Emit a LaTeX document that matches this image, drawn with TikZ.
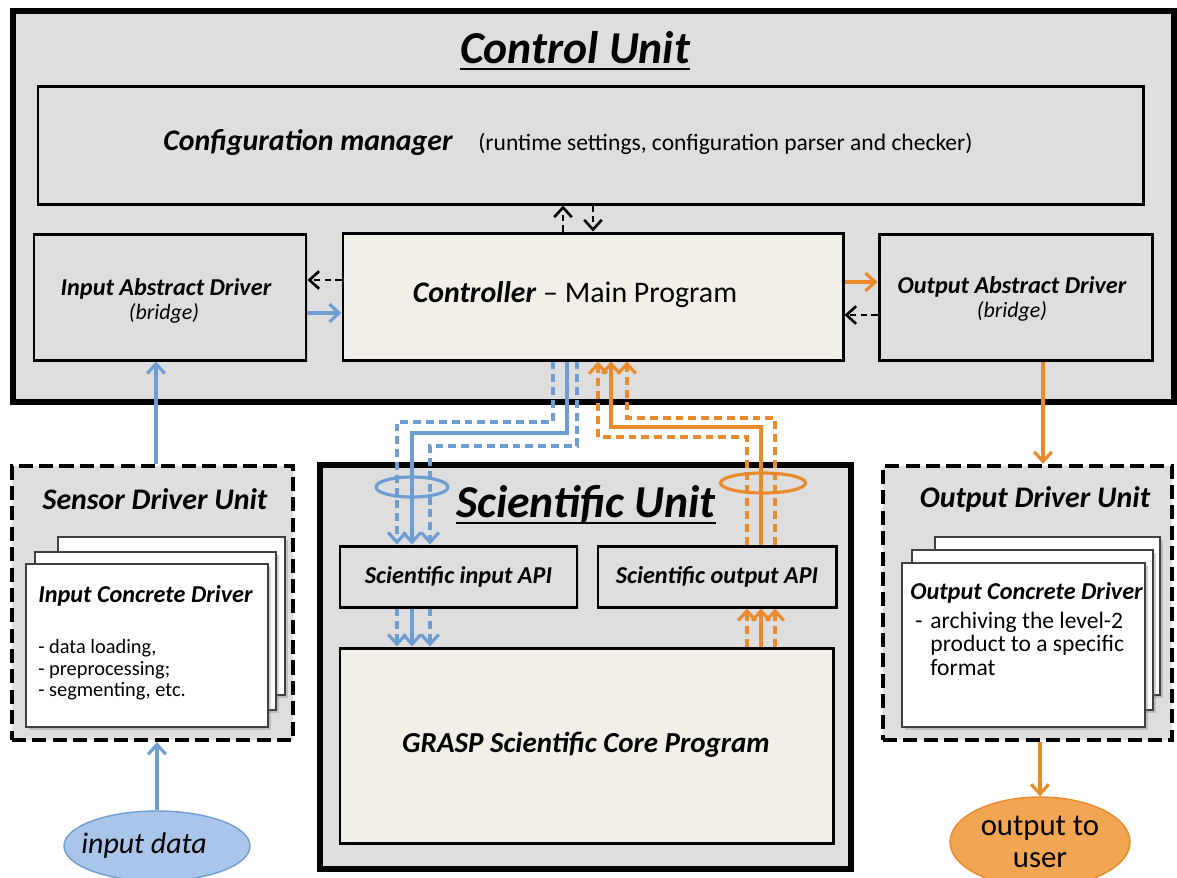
\documentclass[tikz,border=0pt]{standalone}
\usepackage{fontspec}
\setmainfont{Carlito}
\usetikzlibrary{arrows.meta,fit,calc,shadows,shapes.geometric}
\definecolor{unitgray}{HTML}{DEDEDE}
\definecolor{corebeige}{HTML}{F2EFE9}
\definecolor{flowblue}{HTML}{6E9DD2}
\definecolor{ovalblue}{HTML}{A9C6EA}
\definecolor{floworange}{HTML}{E98A2C}
\definecolor{ovalorange}{HTML}{F2A552}
\newcommand\unittitlefont{\bfseries\itshape\fontsize{26}{30}\selectfont}
\newcommand\blocktitlefont{\bfseries\itshape\fontsize{17}{20}\selectfont}
\newcommand\drvtitlefont{\bfseries\itshape\fontsize{13.8}{16}\selectfont}
\newcommand\notefont{\fontsize{11.6}{12.3}\selectfont}
\begin{document}
\begin{tikzpicture}[x=0.02cm,y=-0.02cm,
  every node/.style={inner sep=0pt},
  unitbox/.style={draw, line width=3.4pt, fill=unitgray,
    drop shadow={opacity=0.25,shadow xshift=1.5pt,shadow yshift=-1.5pt}},
  blk/.style={draw, line width=1.7pt, fill=unitgray,
    drop shadow={opacity=0.3,shadow xshift=1.2pt,shadow yshift=-1.2pt}},
  corebox/.style={blk, fill=corebeige},
  drvunit/.style={draw, line width=2.5pt, dash pattern=on 8pt off 3.6pt, fill=unitgray},
  pagebox/.style={draw=black!75, line width=0.8pt, fill=white,
    drop shadow={opacity=0.35,shadow xshift=1.5pt,shadow yshift=-1.5pt}},
  tipped/.style={-{Straight Barb[length=5.5pt,width=10pt]}},
  ctl/.style={tipped, black, line width=1.5pt, dash pattern=on 3.5pt off 2.5pt},
  bsolid/.style={tipped, flowblue, line width=1.8pt},
  bdash/.style={bsolid, dash pattern=on 4.5pt off 2.8pt},
  osolid/.style={tipped, floworange, line width=1.8pt},
  odash/.style={osolid, dash pattern=on 4.5pt off 2.8pt},
  ring/.style={ellipse, line width=1.8pt, minimum height=0.4cm},
  underrule/.style={line width=1.6pt}
]
\fill[white] (0,0) rectangle (1177,877);
\useasboundingbox (0,0) rectangle (1177,877);

% ---------------- Control Unit ----------------
\node[unitbox, fit={(13,11) (1174,402)}] (cu) {};
\node[font=\unittitlefont, anchor=base] (cutitle) at (575,63) {Control Unit};
\draw[underrule] ($(cutitle.base west)+(0,6)$) -- ($(cutitle.base east)+(0,6)$);

\node[blk, fit={(38,86) (1143,204)}] (cfg) {};
\node[font=\blocktitlefont, anchor=base west] (cfgname) at (163,150) {Configuration manager};
\node[font=\fontsize{13.4}{15}\selectfont, anchor=base west] (cfgnote) at (478,150)
  {(runtime settings, configuration parser and checker)};

\node[corebox, fit={(343,233) (843,360)}] (ctrl) {};
\node[font=\fontsize{17}{20}\selectfont, anchor=base] (ctrltxt) at (575,302)
  {\textbf{\textit{Controller}} – Main Program};

\node[blk, fit={(34,234) (306,360)}] (ia) {};
\node[font=\drvtitlefont] (iatxt) at (166,289) {Input Abstract Driver};
\node[font=\itshape\fontsize{12.5}{14}\selectfont] (iabr) at (164,313) {(bridge)};

\node[blk, fit={(879,234) (1152,360)}] (oa) {};
\node[font=\drvtitlefont] (oatxt) at (1012,287) {Output Abstract Driver};
\node[font=\itshape\fontsize{12.5}{14}\selectfont] (oabr) at (1012,311) {(bridge)};

% ---------------- Sensor Driver Unit ----------------
\node[drvunit, fit={(12,466) (293,740)}] (sdu) {};
\node[font=\blocktitlefont] (sdutitle) at (155,499) {Sensor Driver Unit};
\node[pagebox, fit={(58,537) (285,695)}] (sp3) {};
\node[pagebox, fit={(35,552) (276,710)}] (sp2) {};
\node[pagebox, fit={(26,564) (268,727)}] (sp1) {};
\node[font=\drvtitlefont, anchor=west] (icdtitle) at (38,596) {Input Concrete Driver};
\node[font=\notefont, anchor=north west, align=left] (icdnote) at (38,639)
  {- data loading,\\- preprocessing;\\- segmenting, etc.};

% ---------------- Output Driver Unit ----------------
\node[drvunit, fit={(883,466) (1172,740)}] (odu) {};
\node[font=\blocktitlefont] (odutitle) at (1035,499) {Output Driver Unit};
\node[pagebox, fit={(935,537) (1160,695)}] (op3) {};
\node[pagebox, fit={(912,550) (1153,710)}] (op2) {};
\node[pagebox, fit={(902,563) (1145,727)}] (op1) {};
\node[font=\drvtitlefont, anchor=west] (ocdtitle) at (910,593) {Output Concrete Driver};
\node[font=\fontsize{13.4}{13.1}\selectfont, anchor=north west] (ocdnote) at (915,612)
  {\begin{tabular}{@{}l@{\hspace{4.5pt}}l@{}}
   - & archiving the level-2\\
     & product to a specific\\
     & format
   \end{tabular}};

% ---------------- Scientific Unit ----------------
\node[unitbox, fit={(320,465) (851,869)}] (su) {};
\node[font=\unittitlefont, anchor=base] (sutitle) at (586,517) {Scientific Unit};
\draw[underrule] ($(sutitle.base west)+(0,6)$) -- ($(sutitle.base east)+(0,6)$);

\node[blk, fit={(340,546) (577,607)}] (sia) {};
\node[font=\drvtitlefont] (siatxt) at (sia) {Scientific input API};
\node[blk, fit={(598,546) (836,607)}] (soa) {};
\node[font=\drvtitlefont] (soatxt) at (soa) {Scientific output API};

\node[corebox, fit={(340,648) (833,843)}] (core) {};
\node[font=\bfseries\itshape\fontsize{16.5}{20}\selectfont] (coretxt) at (586,745)
  {GRASP Scientific Core Program};

% ---------------- Data source and sink ----------------
\node[ellipse, draw=flowblue, line width=0.8pt, fill=ovalblue,
  minimum width=3.72cm, minimum height=1.4cm] (indata) at (157,846) {};
\node[font=\itshape\fontsize{17}{20}\selectfont] (indatatxt) at (144,846) {input data};
\node[ellipse, draw=floworange, line width=0.8pt, fill=ovalorange,
  minimum width=3.6cm, minimum height=1.8cm, align=center,
  font=\fontsize{17.5}{18.4}\selectfont] (outuser) at (1040,842) {output to\\user};

% ---------------- Control Unit links ----------------
\coordinate (cx1) at (563,0);
\coordinate (cx2) at (593,0);
\draw[ctl] (ctrl.north -| cx1) -- (cfg.south -| cx1);
\draw[ctl] (cfg.south -| cx2) -- (ctrl.north -| cx2);

\coordinate (ry1) at (0,280);
\coordinate (ry2) at (0,313);
\coordinate (ry3) at (0,282);
\coordinate (ry4) at (0,315);
\draw[ctl] (ctrl.west |- ry1) -- (ia.east |- ry1);
\draw[bsolid] (ia.east |- ry2) -- (ctrl.west |- ry2);
\draw[osolid] (ctrl.east |- ry3) -- (oa.west |- ry3);
\draw[ctl] (oa.west |- ry4) -- (ctrl.east |- ry4);

% ---------------- Driver unit links ----------------
\coordinate (vx1) at (156,0);
\coordinate (vx2) at (1043,0);
\draw[bsolid] (sdu.north -| vx1) -- (ia.south -| vx1);
\draw[bsolid] (indata.north) -- (sdu.south -| indata.north);
\draw[osolid] (oa.south -| vx2) -- (odu.north -| vx2);
\draw[osolid] (odu.south -| outuser.north) -- (outuser.north);

% ---------------- Input bundle (blue) ----------------
\coordinate (b1) at (553,422); \coordinate (b1d) at (397,422);
\coordinate (b2) at (567,433); \coordinate (b2d) at (412,433);
\coordinate (b3) at (577,446); \coordinate (b3d) at (430,446);
\draw[bdash]  (ctrl.south -| b1) -- (b1) -- (b1d) -- (sia.north -| b1d);
\draw[bsolid] (ctrl.south -| b2) -- (b2) -- (b2d) -- (sia.north -| b2d);
\draw[bdash]  (ctrl.south -| b3) -- (b3) -- (b3d) -- (sia.north -| b3d);
\draw[bdash]  (sia.south -| b1d) -- (core.north -| b1d);
\draw[bsolid] (sia.south -| b2d) -- (core.north -| b2d);
\draw[bdash]  (sia.south -| b3d) -- (core.north -| b3d);
\node[ring, draw=flowblue, minimum width=1.44cm] (bring) at (412,487) {};

% ---------------- Output bundle (orange) ----------------
\coordinate (o1) at (598,437); \coordinate (o1d) at (747,437);
\coordinate (o2) at (611,427); \coordinate (o2d) at (761,427);
\coordinate (o3) at (627,418); \coordinate (o3d) at (775,418);
\draw[odash]  (soa.north -| o1d) -- (o1d) -- (o1) -- (ctrl.south -| o1);
\draw[osolid] (soa.north -| o2d) -- (o2d) -- (o2) -- (ctrl.south -| o2);
\draw[odash]  (soa.north -| o3d) -- (o3d) -- (o3) -- (ctrl.south -| o3);
\draw[odash]  (core.north -| o1d) -- (soa.south -| o1d);
\draw[osolid] (core.north -| o2d) -- (soa.south -| o2d);
\draw[odash]  (core.north -| o3d) -- (soa.south -| o3d);
\node[ring, draw=floworange, minimum width=1.7cm] (oring) at (763,483) {};
\end{tikzpicture}
\end{document}
